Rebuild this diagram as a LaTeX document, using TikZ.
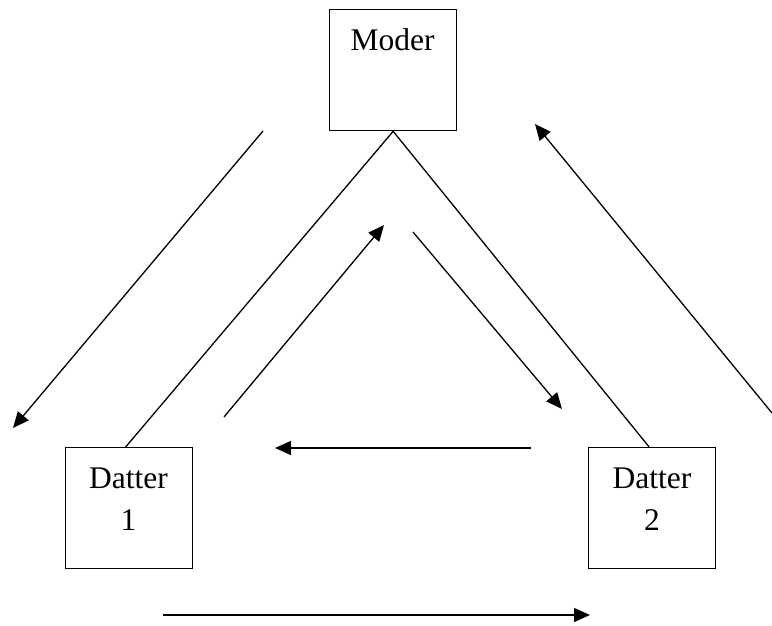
\documentclass[tikz,border=0pt]{standalone}
\usepackage{fontspec}
\setmainfont{Liberation Serif}
\usetikzlibrary{arrows.meta,calc}
\begin{document}
\begin{tikzpicture}[x=1pt,y=-1pt,
  box/.style={draw,line width=1.3pt,minimum width=127pt,minimum height=121pt,inner sep=0pt,anchor=north west},
  lbl/.style={anchor=base,inner sep=0pt,font=\fontsize{31.5}{42}\selectfont,align=center},
  link/.style={line width=1.3pt},
  flow/.style={line width=1.3pt,-{Triangle[length=16pt,width=14pt]}}]
\useasboundingbox (0,0) rectangle (772,626);

% family members
\node[box] (moder) at (329,9) {};
\node[box] (d1) at (65,447) {};
\node[box] (d2) at (588,447) {};
% labels: the base anchor sits on the last line of a two-line label
\node[lbl] (moderlbl) at (392.5,51) {Moder};
\node[lbl] (d1lbl) at (128.5,530) {Datter\\1};
\node[lbl] (d2lbl) at (652,530) {Datter\\2};

% relations
\draw[link] (moder.south) -- ($(d1.north)+(-3.5,0)$);
\draw[link] (moder.south) -- ($(d2.north)+(-3,0)$);

% flows
\coordinate (a1s) at (263,131);
\coordinate (a1e) at (13,428);
\coordinate (a2s) at (772,413);
\coordinate (a2e) at (535,124);
\coordinate (a3s) at (224,417);
\coordinate (a3e) at (384,225);
\coordinate (a4s) at (413,232);
\coordinate (a4e) at (562,409);
\coordinate (a5s) at (531,448);
\coordinate (a5e) at (275,448);
\coordinate (a6s) at (163,615);
\coordinate (a6e) at (590,615);
\draw[flow] (a1s) -- (a1e);
\draw[flow] (a2s) -- (a2e);
\draw[flow] (a3s) -- (a3e);
\draw[flow] (a4s) -- (a4e);
\draw[flow] (a5s) -- (a5e);
\draw[flow] (a6s) -- (a6e);
\end{tikzpicture}
\end{document}
